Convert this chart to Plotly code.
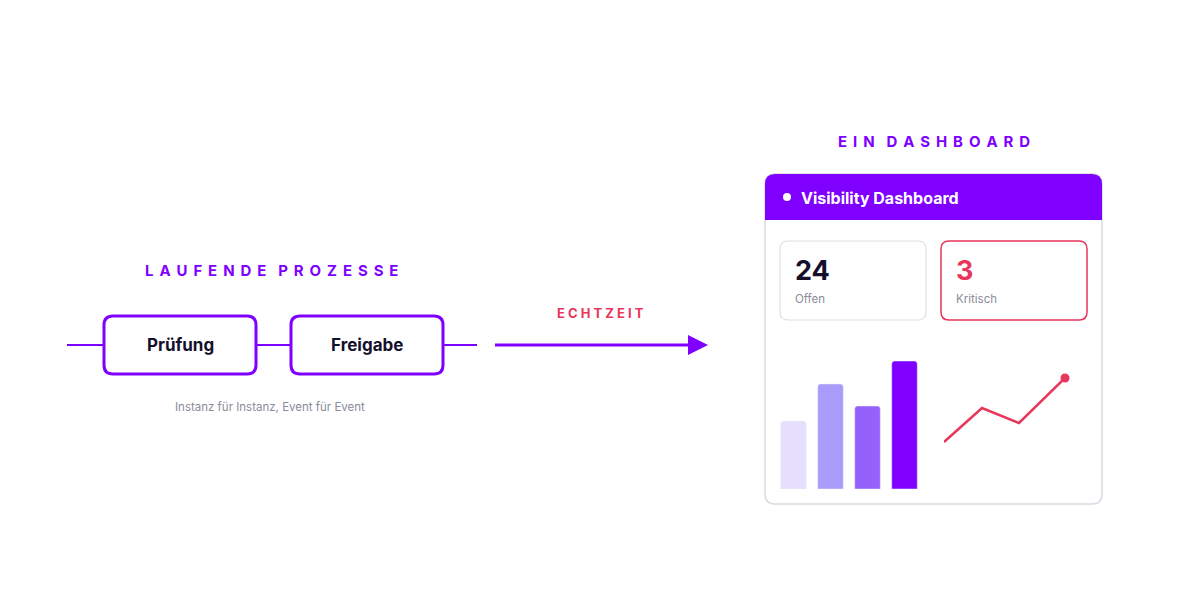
import plotly.graph_objects as go

bar_values = [68, 105, 83, 128]
bar_colors = ['#e6defd', '#a99bfb', '#9660fb', '#8000ff']
line_x = [0, 38, 75, 121]
line_values = [47, 81, 66, 111]
kpi_values = ['24', '3']
kpi_labels = ['Offen', 'Kritisch']
steps = ['Prüfung', 'Freigabe']

PURPLE = '#8000ff'
RED = '#e8365d'
OFF = 8  # page body margin


def rrect(x0, y0, x1, y1, r, top_only=False):
    rb = 0 if top_only else r
    return (f'M {x0+r},{y0} L {x1-r},{y0} Q {x1},{y0} {x1},{y0+r} '
            f'L {x1},{y1-rb} Q {x1},{y1} {x1-rb},{y1} L {x0+rb},{y1} '
            f'Q {x0},{y1} {x0},{y1-rb} L {x0},{y0+r} Q {x0},{y0} {x0+r},{y0} Z')


def spaced(s, sep=' \u2009'):
    return sep.join(s).replace(sep + ' ' + sep, sep * 2)


fig = go.Figure()

shapes = []
for x0, x1 in [(67, 104), (256, 291), (443, 477)]:
    shapes.append(dict(type='line', x0=x0, x1=x1, y0=345, y1=345, line=dict(color=PURPLE, width=2)))
for x0, x1 in [(104, 256), (291, 443)]:
    shapes.append(dict(type='path', path=rrect(x0, 316, x1, 374, 9),
                       line=dict(color=PURPLE, width=3), fillcolor='white'))
shapes.append(dict(type='line', x0=495, x1=690, y0=345, y1=345, line=dict(color=PURPLE, width=3)))
shapes.append(dict(type='path', path='M 688,335 L 708,345 L 688,355 Z', fillcolor=PURPLE, line=dict(width=0)))
shapes.append(dict(type='path', path=rrect(765, 174, 1102, 504, 10),
                   line=dict(color='#d9dbe3', width=1.5), fillcolor='white'))
shapes.append(dict(type='path', path=rrect(765, 174, 1102, 220, 10, top_only=True),
                   line=dict(width=0), fillcolor=PURPLE))
shapes.append(dict(type='circle', x0=783, x1=791, y0=193, y1=201, fillcolor='white', line=dict(width=0)))
shapes.append(dict(type='path', path=rrect(780, 241, 926, 320, 8),
                   line=dict(color='#dedfe5', width=1.2), fillcolor='white'))
shapes.append(dict(type='path', path=rrect(941, 241, 1087, 320, 8),
                   line=dict(color=RED, width=1.5), fillcolor='white'))
for s in shapes:
    s.update(xref='x', yref='y', layer='below')

ann = []
def txt(x, y, t, size, color, xanchor='center', bold=False, font='Inter'):
    ann.append(dict(x=x, y=y, xref='x', yref='y', text=f'<b>{t}</b>' if bold else t,
                    showarrow=False, xanchor=xanchor, yanchor='middle',
                    font=dict(size=size, color=color, family=font)))

txt(271, 270, spaced('LAUFENDE PROZESSE'), 15, PURPLE, bold=True)
txt(600, 313, spaced('ECHTZEIT', ' '), 13, RED, bold=True)
txt(934, 141, spaced('EIN DASHBOARD'), 15, PURPLE, bold=True)
txt(180, 345, steps[0], 17, '#14102b', bold=True)
txt(367, 345, steps[1], 17, '#14102b', bold=True)
txt(270, 407, 'Instanz für Instanz, Event für Event', 11.5, '#8a8c99')
txt(799, 198, 'Visibility Dashboard', 16, 'white', xanchor='left', bold=True)
txt(793, 270, kpi_values[0], 27, '#14102b', xanchor='left', bold=True)
txt(954, 270, kpi_values[1], 27, RED, xanchor='left', bold=True)
txt(793, 299, kpi_labels[0], 11.5, '#8a8c99', xanchor='left')
txt(954, 299, kpi_labels[1], 11.5, '#8a8c99', xanchor='left')

fig.add_trace(go.Bar(x=[0, 1, 2, 3], y=bar_values, marker=dict(color=bar_colors, cornerradius=3),
                     width=0.69, xaxis='x2', yaxis='y2', hoverinfo='skip'))
fig.add_trace(go.Scatter(x=line_x, y=line_values, mode='lines', line=dict(color=RED, width=2.5),
                         xaxis='x3', yaxis='y2', hoverinfo='skip', cliponaxis=False))
fig.add_trace(go.Scatter(x=line_x[-1:], y=line_values[-1:], mode='markers', marker=dict(color=RED, size=9),
                         xaxis='x3', yaxis='y2', hoverinfo='skip', cliponaxis=False))


def dx(px):
    return (px - OFF) / 1200


def dy(px):
    return 1 - (px - OFF) / 600


hidden = dict(visible=False, showgrid=False, zeroline=False, fixedrange=True)
fig.update_layout(
    width=1200, height=600, margin=dict(l=0, r=0, t=0, b=0),
    paper_bgcolor='white', plot_bgcolor='rgba(0,0,0,0)', showlegend=False,
    xaxis=dict(range=[OFF, 1200 + OFF], domain=[0, 1], **hidden),
    yaxis=dict(range=[600 + OFF, OFF], domain=[0, 1], **hidden),
    xaxis2=dict(range=[-0.5, 3.5], domain=[dx(775), dx(923)], anchor='y2', **hidden),
    xaxis3=dict(range=[0, 121], domain=[dx(944), dx(1065)], anchor='y2', **hidden),
    yaxis2=dict(range=[0, 128], domain=[dy(489), dy(361)], anchor='x2', **hidden),
    shapes=shapes, annotations=ann,
)

fig.write_html('out.html')
